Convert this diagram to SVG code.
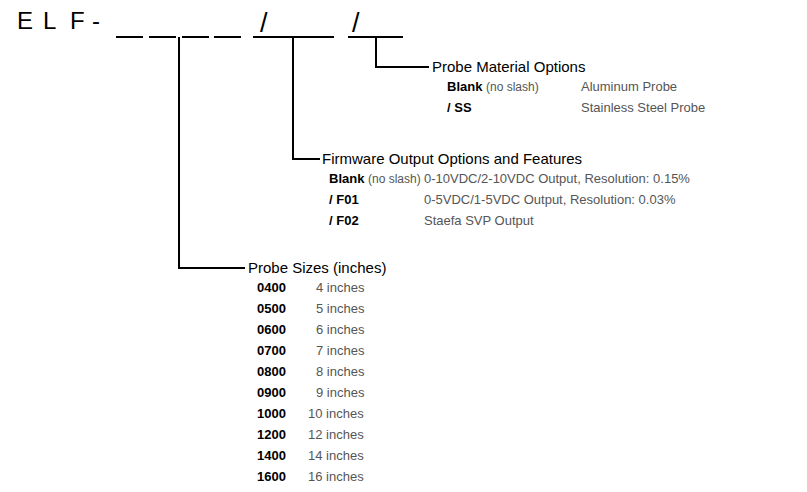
<svg xmlns="http://www.w3.org/2000/svg" width="807" height="492" viewBox="0 0 807 492">
<style>
.t{font-family:"Liberation Sans",Arial,sans-serif;fill:#000}
.big{font-size:24px}
.sl{font-size:27px}
.h{font-size:15px}
.c{font-size:13px;font-weight:bold}
.d{font-size:13px;fill:#555}
.n{font-size:12px;font-weight:normal;fill:#555}
.ln{stroke:#000;stroke-width:2;fill:none}
</style>
<rect width="807" height="492" fill="#fff"/>
<g id="model">
<text class="t big" x="17" y="29">E</text>
<text class="t big" x="43" y="29">L</text>
<text class="t big" x="70" y="29">F</text>
<text class="t big" x="92" y="29">-</text>
<text class="t sl" x="260" y="32">/</text>
<text class="t sl" x="352" y="32">/</text>
<path class="ln" d="M116 37H143M149 37H176M182 37H209M214 37H241M253 37H334M348 37H403"/>
</g>
<g id="connectors">
<path class="ln" d="M376 37V67H429"/>
<path class="ln" d="M293 37V159H320"/>
<path class="ln" d="M179 37V268H245"/>
</g>
<g id="material">
<text class="t h" x="432" y="72">Probe Material Options</text>
<text class="t c" x="447" y="91">Blank <tspan class="n">(no slash)</tspan></text><text class="t d" x="581" y="91">Aluminum Probe</text>
<text class="t c" x="447" y="112">/ SS</text><text class="t d" x="581" y="112">Stainless Steel Probe</text>
</g>
<g id="firmware">
<text class="t h" x="322" y="164">Firmware Output Options and Features</text>
<text class="t c" x="329" y="183">Blank <tspan class="n">(no slash)</tspan></text><text class="t d" x="424" y="183">0-10VDC/2-10VDC Output, Resolution: 0.15%</text>
<text class="t c" x="329" y="204">/ F01</text><text class="t d" x="424" y="204">0-5VDC/1-5VDC Output, Resolution: 0.03%</text>
<text class="t c" x="329" y="225">/ F02</text><text class="t d" x="424" y="225">Staefa SVP Output</text>
</g>
<g id="sizes">
<text class="t h" x="248" y="273">Probe Sizes (inches)</text>
<text class="t c" x="257" y="291.5">0400</text><text class="t d" x="316" y="291.5">4 inches</text>
<text class="t c" x="257" y="312.6">0500</text><text class="t d" x="316" y="312.6">5 inches</text>
<text class="t c" x="257" y="333.7">0600</text><text class="t d" x="316" y="333.7">6 inches</text>
<text class="t c" x="257" y="354.8">0700</text><text class="t d" x="316" y="354.8">7 inches</text>
<text class="t c" x="257" y="375.9">0800</text><text class="t d" x="316" y="375.9">8 inches</text>
<text class="t c" x="257" y="397">0900</text><text class="t d" x="316" y="397">9 inches</text>
<text class="t c" x="257" y="418.1">1000</text><text class="t d" x="308" y="418.1">10 inches</text>
<text class="t c" x="257" y="439.2">1200</text><text class="t d" x="308" y="439.2">12 inches</text>
<text class="t c" x="257" y="460.3">1400</text><text class="t d" x="308" y="460.3">14 inches</text>
<text class="t c" x="257" y="481.4">1600</text><text class="t d" x="308" y="481.4">16 inches</text>
</g>
</svg>
